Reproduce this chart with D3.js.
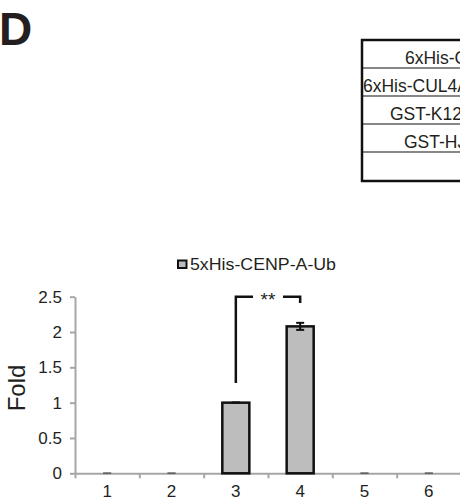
<!DOCTYPE html>
<html lang="en">
<head>
	<meta charset="utf-8">
	<title>Fold - 5xHis-CENP-A-Ub</title>
	<script src="https://cdn.jsdelivr.net/npm/d3@7"></script>
	<style>
		body { margin: 0; background: #fff; }
		text { font-family: "Liberation Sans", Arial, sans-serif; fill: #231f20; }
		.axis path, .axis line { stroke: #a6a6a6; stroke-width: 2; }
		.axis text { font-size: 17px; fill: #231f20; }
		.bar { fill: #bdbdbd; stroke: #111; stroke-width: 2.5; }
		.err { stroke: #111; stroke-width: 2; }
		.err.zero { stroke: #666; stroke-width: 1.5; }
		.bracket { fill: none; stroke: #111; stroke-width: 2.5; }
		.tbl line { stroke: #111; }
	</style>
</head>
<body>
	<div id="chart"></div>

	<script>
		// data
		var categories = ["1", "2", "3", "4", "5", "6"];
		var fold = [0, 0, 1, 2.08, 0, 0];
		var foldErr = [0, 0, 0, 0.05, 0, 0];
		var yTicks = [0, 0.5, 1, 1.5, 2, 2.5];
		var seriesName = "5xHis-CENP-A-Ub";
		var tableRows = ["6xHis-CENP-A", "6xHis-CUL4A", "GST-K124R", "GST-HJURP", ""];

		// layout
		var w = 460,
		    h = 503;
		var tableTextX = [405, 363, 390, 404, 400];

		var svg = d3.select("#chart")
			.append("svg")
			.attr("width", w)
			.attr("height", h);

		// panel letter
		svg.append("text")
			.attr("x", -1)
			.attr("y", 45)
			.style("font-size", "46px")
			.style("font-weight", "bold")
			.text("D");

		// table (cut at right edge, as in the figure)
		var rowY = d3.scaleBand().domain(d3.range(tableRows.length)).range([40, 180]);
		var tbl = svg.append("g").attr("class", "tbl");
		tbl.selectAll(".row-line")
			.data(d3.range(1, tableRows.length))
			.enter()
			.append("line")
			.attr("x1", 362).attr("x2", w)
			.attr("y1", function(d) {return rowY(d);})
			.attr("y2", function(d) {return rowY(d);})
			.style("stroke-width", 1.2);
		tbl.append("line").attr("x1", 361).attr("x2", w).attr("y1", 40).attr("y2", 40).style("stroke-width", 2.5);
		tbl.append("line").attr("x1", 361).attr("x2", w).attr("y1", 181).attr("y2", 181).style("stroke-width", 2.5);
		tbl.append("line").attr("x1", 362).attr("x2", 362).attr("y1", 39).attr("y2", 182).style("stroke-width", 2.5);
		tbl.selectAll(".cell")
			.data(tableRows)
			.enter()
			.append("text")
			.attr("x", function(d, i) {return tableTextX[i];})
			.attr("y", function(d, i) {return rowY(i) + rowY.bandwidth() - 4;})
			.style("font-size", "17.5px")
			.text(function(d) {return d;});

		// chart scales
		var x = d3.scaleBand().domain(categories).range([75, 461]).paddingInner(0.58).paddingOuter(0.29);
		var xEdge = d3.scaleLinear().domain([0, categories.length]).range([75, 461]);
		var y = d3.scaleLinear().domain([0, 2.5]).range([473.3, 296.7]);

		// y axis
		svg.append("g")
			.attr("class", "axis")
			.attr("transform", "translate(75,0)")
			.call(d3.axisLeft(y).tickValues(yTicks).tickSize(5).tickSizeOuter(0).tickPadding(8)
				.tickFormat(function(d) {return String(d);}));

		// x axis: boundary ticks + centred labels
		svg.append("g")
			.attr("class", "axis")
			.attr("transform", "translate(0," + y(0) + ")")
			.call(d3.axisBottom(xEdge).tickValues(d3.range(categories.length + 1)).tickSize(5).tickSizeOuter(0).tickFormat(""));
		svg.append("g")
			.attr("class", "axis xlab")
			.attr("transform", "translate(0," + y(0) + ")")
			.call(d3.axisBottom(x).tickSize(0).tickPadding(12))
			.select(".domain").remove();

		// y label
		svg.append("text")
			.attr("transform", "translate(25," + ((y(0) + y(2.5)) / 2 + 3) + ") rotate(-90)")
			.attr("text-anchor", "middle")
			.style("font-size", "24px")
			.text("Fold");

		// bars
		var rows = fold.map(function(v, i) {return {c: categories[i], v: v, e: foldErr[i]};});
		svg.selectAll(".bar")
			.data(rows.filter(function(d) {return d.v > 0;}))
			.enter()
			.append("rect")
			.attr("class", "bar")
			.attr("x", function(d) {return x(d.c);})
			.attr("y", function(d) {return y(d.v);})
			.attr("width", x.bandwidth())
			.attr("height", function(d) {return y(0) - y(d.v);});

		// error bars
		var eg = svg.selectAll(".errg")
			.data(rows)
			.enter()
			.append("g")
			.attr("class", function(d) {return d.v > 0 ? "err" : "err zero";});
		var cx = function(d) {return x(d.c) + x.bandwidth() / 2;};
		eg.append("line")
			.attr("x1", cx).attr("x2", cx)
			.attr("y1", function(d) {return y(d.v - d.e);})
			.attr("y2", function(d) {return y(d.v + d.e);});
		[-1, 1].forEach(function(s) {
			eg.append("line")
				.attr("x1", function(d) {return cx(d) - 4;})
				.attr("x2", function(d) {return cx(d) + 4;})
				.attr("y1", function(d) {return y(d.v + s * d.e);})
				.attr("y2", function(d) {return y(d.v + s * d.e);});
		});

		// significance bracket between 3 and 4
		var bx1 = x("3") + x.bandwidth() / 2,
		    bx2 = x("4") + x.bandwidth() / 2,
		    bm = (bx1 + bx2) / 2;
		svg.append("path")
			.attr("class", "bracket")
			.attr("d", "M" + bx1 + "," + y(1.28) + "V" + y(2.5) + "H" + (bm - 15));
		svg.append("path")
			.attr("class", "bracket")
			.attr("d", "M" + (bm + 15) + "," + y(2.5) + "H" + bx2 + "V" + y(2.41));
		svg.append("text")
			.attr("x", bm)
			.attr("y", y(2.5) + 9)
			.attr("text-anchor", "middle")
			.style("font-size", "19px")
			.text("**");

		// legend
		svg.append("rect")
			.attr("x", 178).attr("y", 260.5)
			.attr("width", 8.5).attr("height", 7.5)
			.style("fill", "#bdbdbd").style("stroke", "#111").style("stroke-width", 2);
		svg.append("text")
			.attr("x", 190)
			.attr("y", 269.5)
			.attr("textLength", 146)
			.attr("lengthAdjust", "spacingAndGlyphs")
			.style("font-size", "16px")
			.text(seriesName);
	</script>
</body>
</html>
